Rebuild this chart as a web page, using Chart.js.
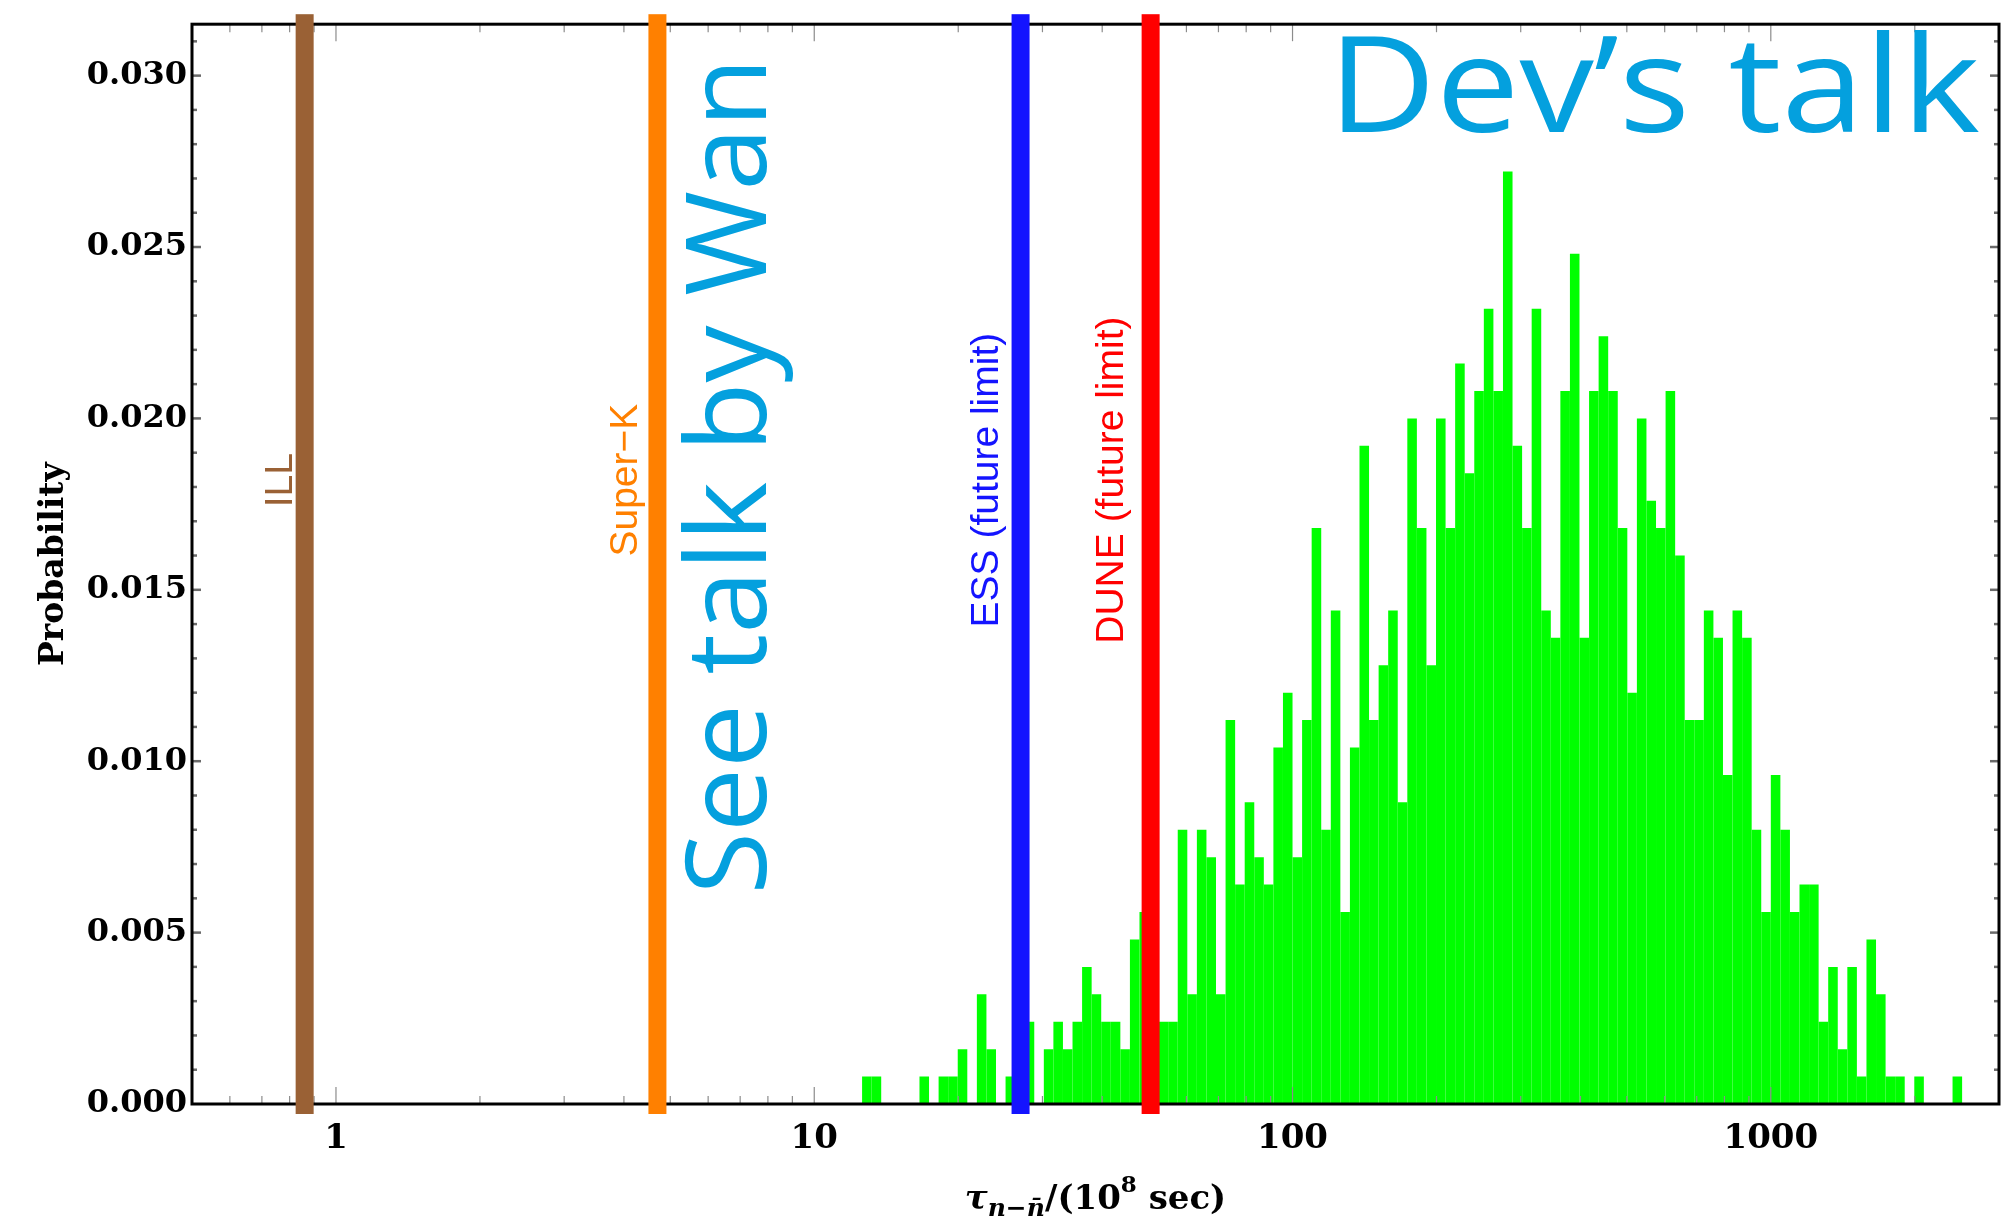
<!DOCTYPE html>
<html>
<head>
<meta charset="utf-8">
<script src="https://cdn.jsdelivr.net/npm/chart.js@4.4.1/dist/chart.umd.min.js"></script>
<style>
  html, body { margin: 0; padding: 0; background: #fff; }
</style>
</head>
<body>
<canvas id="probChart" width="2003" height="1223"></canvas>
<script>
// histogram bins: 50 per decade, first bin starts at 10^1.10
const binStartLog = 1.10;
const binStepLog = 0.02;
const probability = [
  0.0008, 0.0008, 0, 0, 0, 0, 0.0008, 0, 0.0008, 0.0008,
  0.0016, 0, 0.0032, 0.0016, 0, 0.0008, 0.0024, 0.0024, 0, 0.0016,
  0.0024, 0.0016, 0.0024, 0.004, 0.0032, 0.0024, 0.0024, 0.0016, 0.0048, 0.0056,
  0.0048, 0.0024, 0.0024, 0.008, 0.0032, 0.008, 0.0072, 0.0032, 0.0112, 0.0064,
  0.0088, 0.0072, 0.0064, 0.0104, 0.012, 0.0072, 0.0112, 0.0168, 0.008, 0.0144,
  0.0056, 0.0104, 0.0192, 0.0112, 0.0128, 0.0144, 0.0088, 0.02, 0.0168, 0.0128,
  0.02, 0.0168, 0.0216, 0.0184, 0.0208, 0.0232, 0.0208, 0.0272, 0.0192, 0.0168,
  0.0232, 0.0144, 0.0136, 0.0208, 0.0248, 0.0136, 0.0208, 0.0224, 0.0208, 0.0168,
  0.012, 0.02, 0.0176, 0.0168, 0.0208, 0.016, 0.0112, 0.0112, 0.0144, 0.0136,
  0.0096, 0.0144, 0.0136, 0.008, 0.0056, 0.0096, 0.008, 0.0056, 0.0064, 0.0064,
  0.0024, 0.004, 0.0016, 0.004, 0.0008, 0.0048, 0.0032, 0.0008, 0.0008, 0,
  0.0008, 0, 0, 0, 0.0008
];

// experimental limits (vertical bands)
const limitNames = ['ILL', 'Super\u2212K', 'ESS (future limit)', 'DUNE (future limit)'];
const limitValues = [0.86, 4.7, 27, 50.5];
const limitColors = ['#9a6135', '#ff8000', '#1414ff', '#ff0000'];

const xTickLabels = [1, 10, 100, 1000];
const xMinorTicks = [0.6, 0.7, 0.8, 0.9, 2, 3, 4, 5, 6, 7, 8, 9, 20, 30, 40, 50, 60, 70, 80, 90,
  200, 300, 400, 500, 600, 700, 800, 900, 2000];
const yTickLabels = [0, 0.005, 0.010, 0.015, 0.020, 0.025, 0.030];

const serif = "'DejaVu Serif', serif";
const penBlue = '#04a0de';
const labelGap = [13, 20, 23, 28]; // px between band centre and label baseline

function line(ctx, x1, y1, x2, y2) {
  ctx.beginPath();
  ctx.moveTo(x1, y1);
  ctx.lineTo(x2, y2);
  ctx.stroke();
}

// text rotated to read bottom-to-top, baseline at bx, centred on cy
function upText(ctx, text, bx, cy, font, color, width) {
  ctx.save();
  ctx.translate(bx, cy);
  ctx.rotate(-Math.PI / 2);
  ctx.font = font;
  ctx.fillStyle = color;
  ctx.textAlign = 'center';
  ctx.textBaseline = 'alphabetic';
  if (width) ctx.scale(width / ctx.measureText(text).width, 1);
  ctx.fillText(text, 0, 0);
  ctx.restore();
}

const overlay = {
  id: 'overlay',
  afterDatasetsDraw(chart) {
    const { ctx, chartArea: a, scales: { x, y } } = chart;
    ctx.save();

    // x ticks, bottom and top
    ctx.strokeStyle = '#8c8c8c';
    ctx.lineWidth = 1.2;
    xTickLabels.forEach(v => {
      const px = x.getPixelForValue(v);
      line(ctx, px, a.bottom, px, a.bottom - 17);
      line(ctx, px, a.top, px, a.top + 17);
    });
    xMinorTicks.forEach(v => {
      const px = x.getPixelForValue(v);
      line(ctx, px, a.bottom, px, a.bottom - 8);
      line(ctx, px, a.top, px, a.top + 8);
    });

    // y ticks, left and right
    ctx.strokeStyle = '#6a6a6a';
    ctx.lineWidth = 2.5;
    for (let i = 1; i <= 31; i++) {
      const py = y.getPixelForValue(i / 1000);
      const len = i % 5 === 0 ? 9 : 5;
      line(ctx, a.left, py, a.left + len, py);
      line(ctx, a.right, py, a.right - len, py);
    }

    // frame
    ctx.strokeStyle = '#000';
    ctx.lineWidth = 3;
    ctx.strokeRect(a.left, a.top, a.right - a.left, a.bottom - a.top);

    // limit bands and their labels
    const labelY = y.getPixelForValue(0.0182);
    limitValues.forEach((v, i) => {
      const px = x.getPixelForValue(v);
      ctx.fillStyle = limitColors[i];
      ctx.fillRect(px - 9, a.top - 10, 18, a.bottom - a.top + 20);
      upText(ctx, limitNames[i], px - labelGap[i], labelY, "39px 'Liberation Sans', sans-serif", limitColors[i]);
    });

    // axis titles
    upText(ctx, 'Probability', 63, (a.top + a.bottom) / 2, 'bold 33px ' + serif, '#000');

    const parts = [
      { t: '\u03c4', f: 'italic bold 34px ' + serif, dy: 0 },
      { t: 'n\u2212n\u0304', f: 'italic bold 25px ' + serif, dy: 7 },
      { t: '/(10', f: 'bold 34px ' + serif, dy: 0 },
      { t: '8', f: 'bold 23px ' + serif, dy: -17 },
      { t: ' sec)', f: 'bold 34px ' + serif, dy: 0 }
    ];
    let total = 0;
    parts.forEach(p => { ctx.font = p.f; p.w = ctx.measureText(p.t).width; total += p.w; });
    let tx = (a.left + a.right) / 2 - total / 2;
    ctx.fillStyle = '#000';
    ctx.textAlign = 'left';
    ctx.textBaseline = 'alphabetic';
    parts.forEach(p => {
      ctx.font = p.f;
      ctx.fillText(p.t, tx, 1209 + p.dy);
      tx += p.w;
    });

    // handwritten notes
    upText(ctx, 'See talk by Wan', 766, 476, "112px 'Open Sans', sans-serif", penBlue, 837);
    ctx.save();
    ctx.font = "134px 'Open Sans', sans-serif";
    ctx.fillStyle = penBlue;
    ctx.textAlign = 'left';
    ctx.translate(1328, 132);
    ctx.scale(652 / ctx.measureText('Dev\u2019s talk').width, 1);
    ctx.fillText('Dev\u2019s talk', 0, 0);
    ctx.restore();

    ctx.restore();
  }
};

new Chart(document.getElementById('probChart'), {
  type: 'bar',
  data: {
    datasets: [{
      data: probability.map((p, i) => ({ x: Math.pow(10, binStartLog + (i + 0.5) * binStepLog), y: p })),
      backgroundColor: '#00ff00',
      borderWidth: 0,
      barPercentage: 1,
      categoryPercentage: 1,
      inflateAmount: 0
    }]
  },
  options: {
    responsive: false,
    animation: false,
    devicePixelRatio: 1,
    layout: { padding: { top: 20, right: 4, left: 0, bottom: 0 } },
    plugins: { legend: { display: false }, tooltip: { enabled: false } },
    scales: {
      x: {
        type: 'logarithmic',
        min: 0.5,
        max: 3000,
        grid: { display: false, drawTicks: false },
        border: { display: false },
        afterBuildTicks: s => { s.ticks = xTickLabels.map(v => ({ value: v })); },
        afterFit: s => { s.height = 119; },
        ticks: {
          callback: v => String(v),
          font: { family: serif, size: 34, weight: 'bold' },
          color: '#000',
          padding: 15,
          maxRotation: 0,
          autoSkip: false
        }
      },
      y: {
        min: 0,
        max: 0.0315,
        grid: { display: false, drawTicks: false },
        border: { display: false },
        afterBuildTicks: s => { s.ticks = yTickLabels.map(v => ({ value: v })); },
        afterFit: s => { s.width = 192; },
        ticks: {
          callback: v => v.toFixed(3),
          font: { family: serif, size: 32, weight: 'bold' },
          color: '#000',
          padding: 5
        }
      }
    }
  },
  plugins: [overlay]
});
</script>
</body>
</html>
